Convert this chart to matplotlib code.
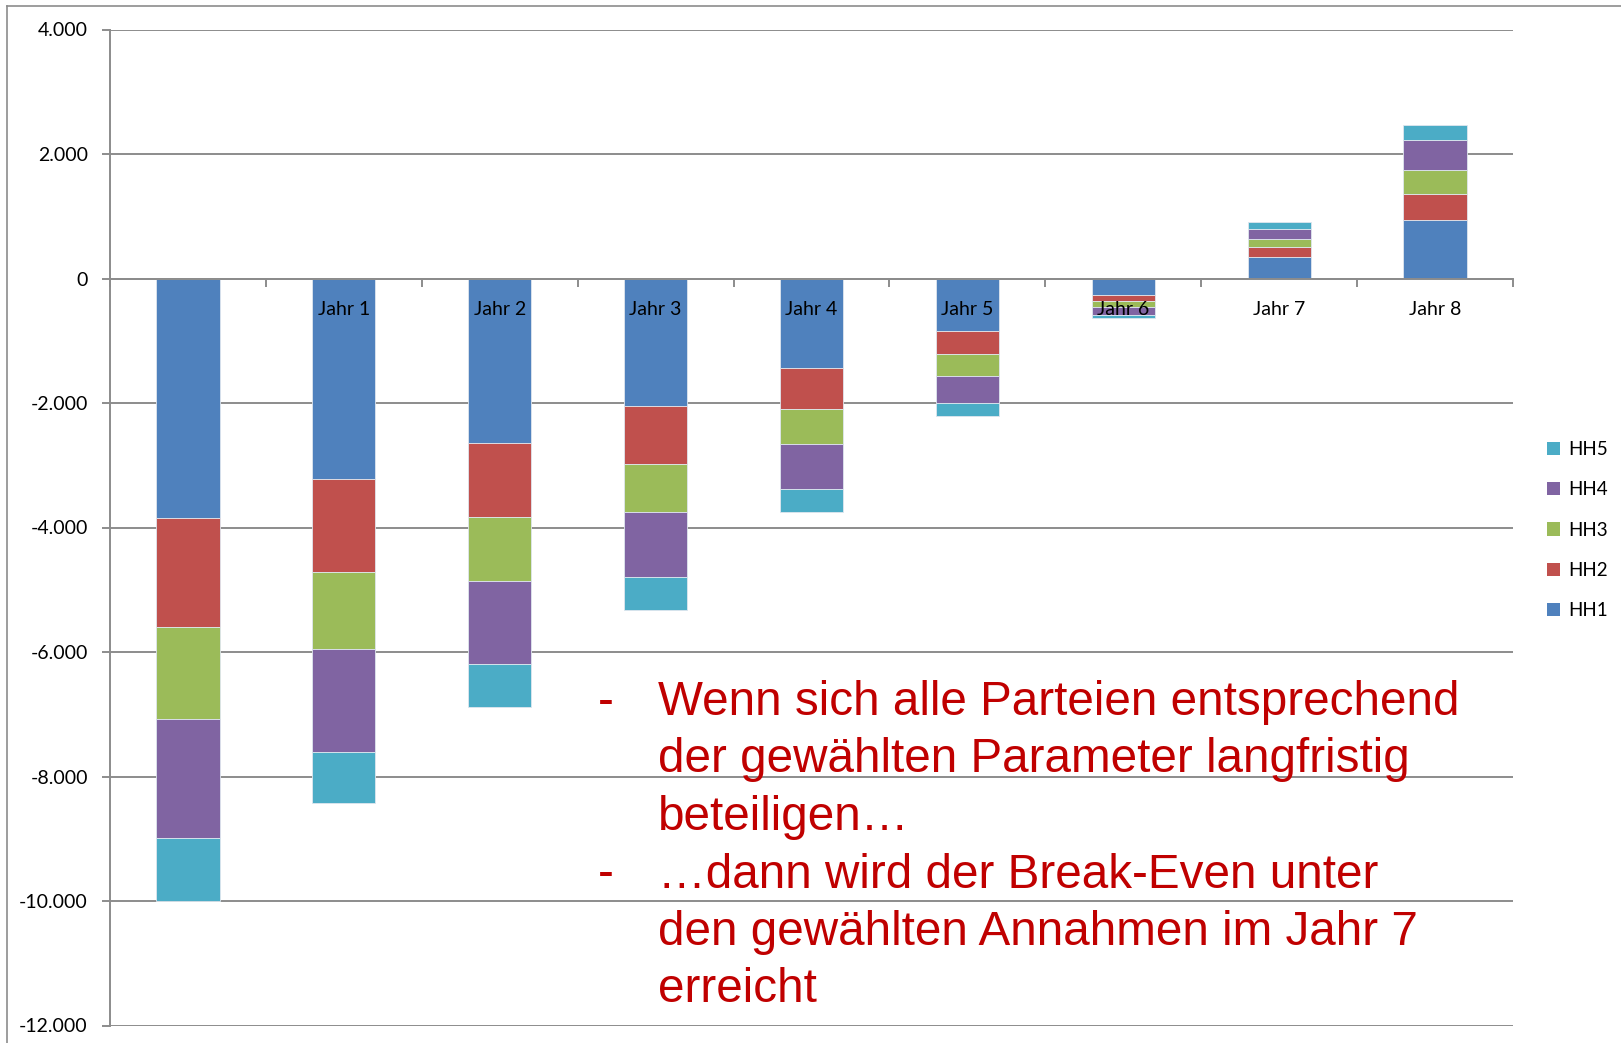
import matplotlib
matplotlib.use("Agg")
import numpy as np
import matplotlib.pyplot as plt
from matplotlib import font_manager
from matplotlib.lines import Line2D
from matplotlib.patches import Patch
from matplotlib.ticker import FuncFormatter

# categories (first one has no label in the original)
categories = ["", "Jahr 1", "Jahr 2", "Jahr 3", "Jahr 4", "Jahr 5", "Jahr 6", "Jahr 7", "Jahr 8"]

# values per household
hh1 = [-3840, -3215, -2635, -2045, -1437, -848, -268, 350, 937]
hh2 = [-1760, -1500, -1196, -935, -659, -370, -93, 161, 422]
hh3 = [-1475, -1237, -1024, -776, -567, -353, -92, 128, 381]
hh4 = [-1920, -1654, -1333, -1039, -723, -429, -128, 161, 477]
hh5 = [-1005, -825, -691, -535, -370, -209, -49, 108, 241]

series_names = ["HH1", "HH2", "HH3", "HH4", "HH5"]
series_colors = ["#4F81BD", "#C0504D", "#9BBB59", "#8064A2", "#4BACC6"]

note_lines = [
    ("-", "Wenn sich alle Parteien entsprechend"),
    ("", "der gewählten Parameter langfristig"),
    ("", "beteiligen…"),
    ("-", "…dann wird der Break-Even unter"),
    ("", "den gewählten Annahmen im Jahr 7"),
    ("", "erreicht"),
]

names = {f.name for f in font_manager.fontManager.ttflist}
label_font = "Lato" if "Lato" in names else "DejaVu Sans"
note_font = "Liberation Sans"

W, H = 1621, 1043
fig = plt.figure(figsize=(W / 100, H / 100), dpi=100)
ax = fig.add_axes([110 / W, 1 - 1025.5 / H, (1513 - 110) / W, (1025.5 - 29.5) / H])

x = np.arange(len(categories))
bottom = np.zeros(len(categories))
for vals, name, col in zip([hh1, hh2, hh3, hh4, hh5], series_names, series_colors):
    vals = np.array(vals, dtype=float)
    ax.bar(x, vals, 0.405, bottom=bottom, color=col, label=name,
           edgecolor="#dfe6ee", linewidth=0.6, zorder=3)
    bottom = bottom + vals

ax.set_xlim(-0.5, len(categories) - 0.5)
ax.set_ylim(-12000, 4000)
ax.set_yticks(np.arange(-12000, 4001, 2000))
ax.yaxis.set_major_formatter(FuncFormatter(lambda v, p: f"{v:,.0f}".replace(",", ".")))
ax.grid(axis="y", color="#8c8c8c", linewidth=1.4, zorder=0)

# x axis sits on zero, ticks between categories, labels below each bar (drawn over the bars)
ax.spines["bottom"].set_position(("data", 0))
ax.spines["bottom"].set_zorder(4)
ax.xaxis.set_zorder(5)
for s in ["top", "right"]:
    ax.spines[s].set_visible(False)
for s in ["bottom", "left"]:
    ax.spines[s].set_color("#8c8c8c")
    ax.spines[s].set_linewidth(1.4)
ax.set_xticks(np.arange(len(categories) + 1) - 0.5)
ax.set_xticklabels([])
ax.set_xticks(x, minor=True)
ax.set_xticklabels(categories, minor=True, fontsize=14, family=label_font)
ax.tick_params(axis="x", which="major", direction="out", length=6, width=1.4, color="#8c8c8c")
ax.tick_params(axis="x", which="minor", length=0, pad=16)
ax.tick_params(axis="y", direction="out", length=6, width=1.4, color="#8c8c8c", pad=10,
               labelsize=14)
for t in ax.get_yticklabels():
    t.set_family(label_font)

handles = [Patch(facecolor=c) for c in series_colors][::-1]
fig.legend(handles, series_names[::-1], loc="center left",
           bbox_to_anchor=(1530 / W, 1 - 530 / H), frameon=False,
           prop={"family": label_font, "size": 13.5}, handlelength=0.7, handleheight=0.7,
           handletextpad=0.45, labelspacing=1.25)

# outer frame of the slide element
fig.add_artist(Line2D([7 / W, 7 / W], [0, 1 - 6 / H], color="#8c8c8c", lw=1.2))
fig.add_artist(Line2D([7 / W, 1], [1 - 6 / H, 1 - 6 / H], color="#8c8c8c", lw=1.2))

y0, dy = 715, 57.5
for i, (dash, line) in enumerate(note_lines):
    yy = 1 - (y0 + i * dy) / H
    if dash:
        fig.text(598 / W, yy, dash, color="#C00000", fontsize=34.3, family=note_font, va="baseline")
    fig.text(658 / W, yy, line, color="#C00000", fontsize=34.3, family=note_font, va="baseline")

fig.savefig("out.png", dpi=100)
